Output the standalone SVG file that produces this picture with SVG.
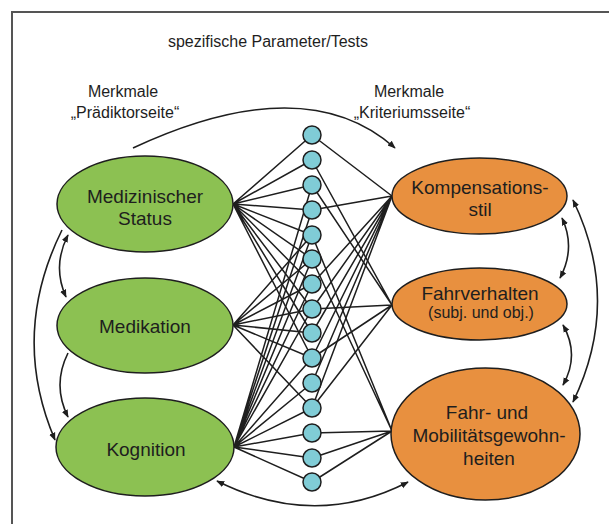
<svg xmlns="http://www.w3.org/2000/svg" width="609" height="524" viewBox="0 0 609 524">
<style>
  text { font-family: "Liberation Sans", Arial, sans-serif; fill: #1e1e1e; text-anchor: middle; }
  .hdr { font-size: 16px; }
  .lbl { font-size: 19px; }
  .sub { font-size: 16px; }
  .green { fill: #8cc152; stroke: #1e1e1e; stroke-width: 1.5; }
  .orange { fill: #e8903f; stroke: #1e1e1e; stroke-width: 1.5; }
  .dot { fill: #80ccd6; stroke: #1e1e1e; stroke-width: 1.5; }
  .ln { stroke: #1e1e1e; stroke-width: 1.5; fill: none; }
  .arc { stroke: #1e1e1e; stroke-width: 1.6; fill: none; }
</style>
<defs>
  <marker id="ah" viewBox="0 0 10 10" refX="9" refY="5" markerWidth="8" markerHeight="8" markerUnits="userSpaceOnUse" orient="auto-start-reverse">
    <path d="M0,1 L10,5 L0,9 Z" fill="#1e1e1e"/>
  </marker>
</defs>
<rect x="12" y="12" width="640" height="560" fill="#ffffff" stroke="#555555" stroke-width="2"/>

<g id="titles">
  <text class="hdr" x="268" y="47">spezifische Parameter/Tests</text>
  <text class="hdr" x="123" y="97">Merkmale</text>
  <text class="hdr" x="125" y="118">„Prädiktorseite“</text>
  <text class="hdr" x="409" y="97">Merkmale</text>
  <text class="hdr" x="412" y="118">„Kriteriumsseite“</text>
</g>

<g id="connectors">
  <!-- Medizinischer Status -> circles -->
  <path class="ln" d="M233,204 L312,135 M233,204 L312,160 M233,204 L312,185 M233,204 L312,210 M233,204 L312,235 M233,204 L312,259 M233,204 L312,284 M233,204 L312,309 M233,204 L312,333 M233,204 L312,358"/>
  <!-- Medikation -> circles -->
  <path class="ln" d="M233,325 L312,235 M233,325 L312,259 M233,325 L312,284 M233,325 L312,309 M233,325 L312,333 M233,325 L312,358 M233,325 L312,408"/>
  <!-- Kognition -> circles -->
  <path class="ln" d="M234,447 L312,185 M234,447 L312,210 M234,447 L312,235 M234,447 L312,259 M234,447 L312,284 M234,447 L312,309 M234,447 L312,358 M234,447 L312,383 M234,447 L312,408 M234,447 L312,433 M234,447 L312,458 M234,447 L312,482"/>
  <!-- circles -> Kompensationsstil -->
  <path class="ln" d="M312,135 L392,196 M312,210 L392,196 M312,284 L392,196 M312,309 L392,196 M312,333 L392,196 M312,358 L392,196 M312,383 L392,196 M312,408 L392,196"/>
  <!-- circles -> Fahrverhalten -->
  <path class="ln" d="M312,160 L392,305 M312,185 L392,305 M312,309 L392,305 M312,358 L392,305 M312,408 L392,305"/>
  <!-- circles -> Fahr- und Mobilitaetsgewohnheiten -->
  <path class="ln" d="M312,235 L392,431 M312,259 L392,431 M312,433 L392,431 M312,458 L392,431 M312,482 L392,431"/>
  <!-- curved relation arrows -->
  <path class="arc" d="M133,148 Q305,68 395,148" marker-end="url(#ah)"/>
  <path class="arc" d="M217,481 Q315,530 408,482" marker-start="url(#ah)" marker-end="url(#ah)"/>
  <path class="arc" d="M68,235 Q52,266 66,297" marker-start="url(#ah)" marker-end="url(#ah)"/>
  <path class="arc" d="M68,353 Q52,385 68,417" marker-end="url(#ah)"/>
  <path class="arc" d="M62,230 Q10,335 55,440" marker-end="url(#ah)"/>
  <path class="arc" d="M562,218 Q576,248 560,278" marker-start="url(#ah)" marker-end="url(#ah)"/>
  <path class="arc" d="M563,325 Q580,355 563,385" marker-start="url(#ah)" marker-end="url(#ah)"/>
  <path class="arc" d="M573,200 Q622,301 573,402" marker-start="url(#ah)" marker-end="url(#ah)"/>
</g>

<g id="node-med-status">
  <ellipse class="green" cx="145" cy="204" rx="88" ry="48"/>
  <text class="lbl" x="145" y="203">Medizinischer</text>
  <text class="lbl" x="145" y="225">Status</text>
</g>
<g id="node-medikation">
  <ellipse class="green" cx="145" cy="325.5" rx="88" ry="47.5"/>
  <text class="lbl" x="145" y="333">Medikation</text>
</g>
<g id="node-kognition">
  <ellipse class="green" cx="145" cy="447" rx="89" ry="49"/>
  <text class="lbl" x="146" y="456">Kognition</text>
</g>

<g id="node-kompensation">
  <ellipse class="orange" cx="479.5" cy="196" rx="87.5" ry="38"/>
  <text class="lbl" x="480" y="194">Kompensations-</text>
  <text class="lbl" x="480" y="216">stil</text>
</g>
<g id="node-fahrverhalten">
  <ellipse class="orange" cx="479.5" cy="304" rx="87.5" ry="36"/>
  <text class="lbl" x="480" y="300">Fahrverhalten</text>
  <text class="sub" x="481" y="318">(subj. und obj.)</text>
</g>
<g id="node-gewohnheiten">
  <ellipse class="orange" cx="485.5" cy="434" rx="94.5" ry="66"/>
  <text class="lbl" x="487" y="419">Fahr- und</text>
  <text class="lbl" x="489" y="442">Mobilitätsgewohn-</text>
  <text class="lbl" x="489" y="465">heiten</text>
</g>

<g id="tests">
  <circle class="dot" cx="312" cy="135" r="9"/>
  <circle class="dot" cx="312" cy="160" r="9"/>
  <circle class="dot" cx="312" cy="185" r="9"/>
  <circle class="dot" cx="312" cy="210" r="9"/>
  <circle class="dot" cx="312" cy="235" r="9"/>
  <circle class="dot" cx="312" cy="259" r="9"/>
  <circle class="dot" cx="312" cy="284" r="9"/>
  <circle class="dot" cx="312" cy="309" r="9"/>
  <circle class="dot" cx="312" cy="333" r="9"/>
  <circle class="dot" cx="312" cy="358" r="9"/>
  <circle class="dot" cx="312" cy="383" r="9"/>
  <circle class="dot" cx="312" cy="408" r="9"/>
  <circle class="dot" cx="312" cy="433" r="9"/>
  <circle class="dot" cx="312" cy="458" r="9"/>
  <circle class="dot" cx="312" cy="482" r="9"/>
</g>
</svg>
